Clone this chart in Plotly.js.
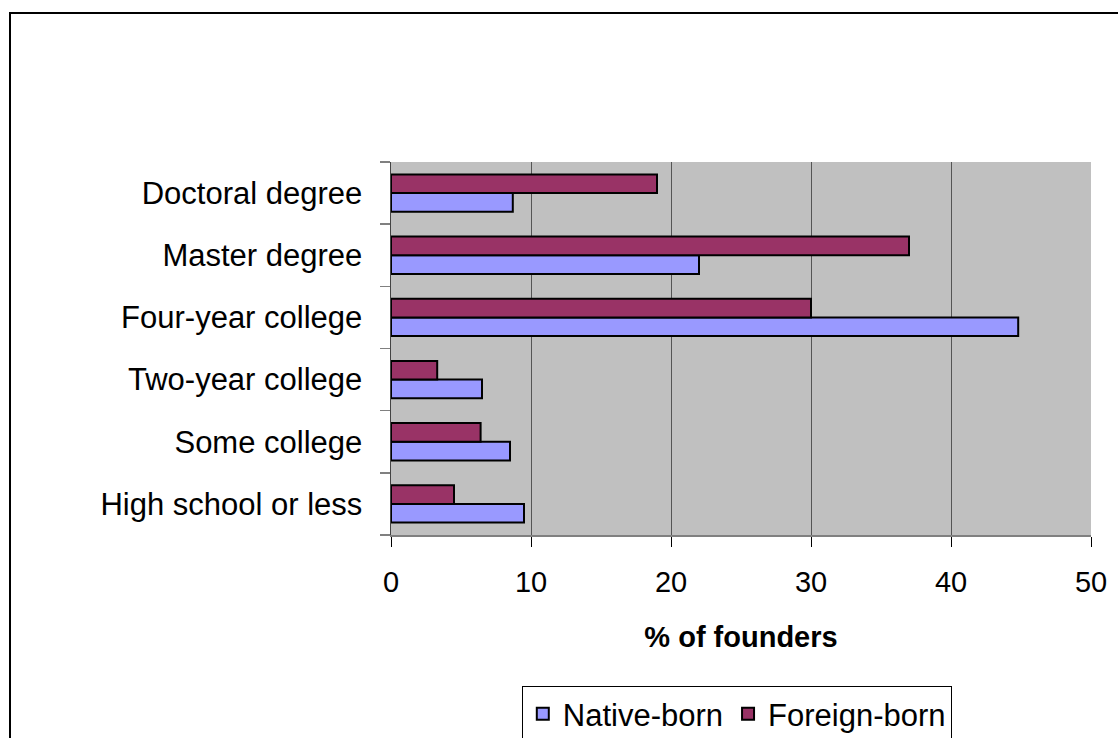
<!DOCTYPE html>
<html>
<head>
<meta charset="utf-8">
<script src="https://cdn.plot.ly/plotly-3.0.1.min.js"></script>
<style>
  html, body { margin: 0; padding: 0; background: #fff; }
  #frame { position: absolute; left: 9px; top: 12px; width: 1200px; height: 800px; border: 2px solid #000; box-sizing: border-box; }
  #chart { position: absolute; left: 0; top: 0; width: 1118px; height: 738px; }
</style>
</head>
<body>
<div id="frame"></div>
<div id="chart"></div>
<script>
const categories = ["High school or less", "Some college", "Two-year college", "Four-year college", "Master degree", "Doctoral degree"];
const nativeBorn = [9.5, 8.5, 6.5, 44.8, 22.0, 8.7];
const foreignBorn = [4.5, 6.4, 3.3, 30.0, 37.0, 19.0];
const seriesNames = ["Native-born", "Foreign-born"];
const xTicks = [0, 10, 20, 30, 40, 50];

const font = "Arial, 'Liberation Sans', sans-serif";

const traces = [
  { type: "bar", orientation: "h", name: seriesNames[0], y: categories, x: nativeBorn,
    marker: { color: "#9999FF", line: { color: "#000", width: 2 } }, hoverinfo: "x+y" },
  { type: "bar", orientation: "h", name: seriesNames[1], y: categories, x: foreignBorn,
    marker: { color: "#993366", line: { color: "#000", width: 2 } }, hoverinfo: "x+y" }
];

const layout = {
  width: 1118, height: 738,
  margin: { l: 391, r: 27, t: 162, b: 203, autoexpand: false },
  paper_bgcolor: "rgba(0,0,0,0)",
  plot_bgcolor: "#c0c0c0",
  barmode: "group",
  bargap: 0.4,
  bargroupgap: 0,
  font: { family: font, color: "#000" },
  showlegend: true,
  legend: {
    orientation: "h", x: 0.494, xanchor: "center", y: -0.405, yanchor: "top",
    bordercolor: "#000", borderwidth: 1, bgcolor: "#fff",
    font: { family: font, size: 31, color: "#000" },
    traceorder: "normal", itemwidth: 30
  },
  xaxis: {
    range: [0, 50], tickvals: xTicks, ticktext: xTicks.map(String),
    showgrid: true, gridcolor: "#555", gridwidth: 1,
    zeroline: false, showline: true, linecolor: "#808080", linewidth: 1.5,
    ticks: "outside", ticklen: 10, tickcolor: "#000", tickwidth: 1,
    ticklabelstandoff: 11,
    tickfont: { family: font, size: 29, color: "#000" },
    title: { text: "<b>% of founders</b>", font: { family: font, size: 29, color: "#000" }, standoff: 29 },
    fixedrange: true
  },
  yaxis: {
    type: "category", categoryorder: "array", categoryarray: categories,
    showgrid: false, zeroline: false, showline: true, linecolor: "#444", linewidth: 1.5,
    ticks: "outside", ticklen: 10, tickcolor: "#808080", tickwidth: 1.5, tickson: "boundaries",
    ticklabelstandoff: 21,
    tickfont: { family: font, size: 31, color: "#000" },
    fixedrange: true
  }
};

Plotly.newPlot("chart", traces, layout, { displayModeBar: false, staticPlot: true });
</script>
</body>
</html>
